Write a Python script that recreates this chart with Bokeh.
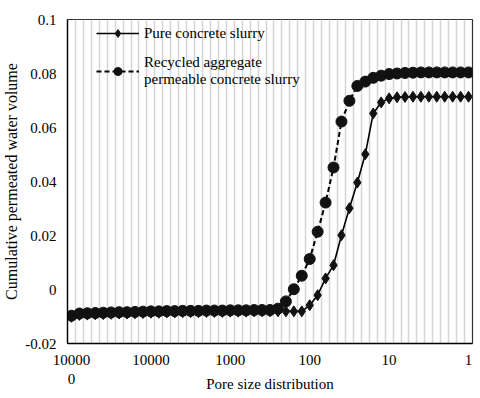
from bokeh.plotting import figure
from bokeh.models import Range1d, FixedTicker, Legend, LegendItem
from bokeh.embed import file_html
from bokeh.resources import INLINE

# Pore sizes (descending, 10 points per decade)
pore_size = [100000, 79433, 63096, 50119, 39811, 31623, 25119, 19953, 15849, 12589,
             10000, 7943.3, 6309.6, 5011.9, 3981.1, 3162.3, 2511.9, 1995.3, 1584.9, 1258.9,
             1000, 794.33, 630.96, 501.19, 398.11, 316.23, 251.19, 199.53, 158.49, 125.89,
             100, 79.433, 63.096, 50.119, 39.811, 31.623, 25.119, 19.953, 15.849, 12.589,
             10, 7.9433, 6.3096, 5.0119, 3.9811, 3.1623, 2.5119, 1.9953, 1.5849, 1.2589, 1]

pure_slurry = [-0.0101, -0.0094, -0.0093, -0.0092, -0.0091, -0.0090, -0.0089, -0.0089, -0.0088, -0.0087,
               -0.0086, -0.0086, -0.0085, -0.0085, -0.0084, -0.0084, -0.0084, -0.0083, -0.0083, -0.0083,
               -0.0082, -0.0082, -0.0082, -0.0081, -0.0081, -0.0081, -0.0081, -0.0081, -0.0081, -0.0081,
               -0.0058, -0.0021, 0.0041, 0.0090, 0.0201, 0.0301, 0.0396, 0.0501, 0.0652, 0.0693,
               0.0708, 0.0712, 0.0713, 0.0714, 0.0714, 0.0714, 0.0714, 0.0714, 0.0714, 0.0714, 0.0714]

recycled_slurry = [-0.0097, -0.0089, -0.0088, -0.0087, -0.0086, -0.0085, -0.0084, -0.0084, -0.0083, -0.0082,
                   -0.0081, -0.0081, -0.0080, -0.0080, -0.0079, -0.0079, -0.0079, -0.0078, -0.0078, -0.0078,
                   -0.0077, -0.0077, -0.0077, -0.0076, -0.0076, -0.0076, -0.0071, -0.0044, 0.0001, 0.0051,
                   0.0113, 0.0214, 0.0322, 0.0452, 0.0622, 0.0699, 0.0754, 0.0770, 0.0784, 0.0792,
                   0.0798, 0.0800, 0.0802, 0.0803, 0.0804, 0.0804, 0.0804, 0.0804, 0.0804, 0.0804, 0.0804]

x_ticks = [100000, 10000, 1000, 100, 10, 1]
x_tick_labels = ["10000\n0", "10000", "1000", "100", "10", "1"]
y_ticks = [-0.02, 0, 0.02, 0.04, 0.06, 0.08, 0.1]
y_tick_labels = ["-0.02", "0", "0.02", "0.04", "0.06", "0.08", "0.1"]

FONT = "Liberation Serif"

# half-step padding on each side (category-like layout)
x_lo = pore_size[0] * (pore_size[0] / pore_size[1]) ** 0.5
x_hi = pore_size[-1] / (pore_size[-2] / pore_size[-1]) ** 0.5

p = figure(width=480, height=398, x_axis_type="log",
           x_range=Range1d(x_lo, x_hi), y_range=Range1d(-0.02, 0.1),
           output_backend="svg", toolbar_location=None,
           min_border_left=64, min_border_right=8, min_border_top=19, min_border_bottom=55)

p.background_fill_color = "white"
p.border_fill_color = "white"
p.outline_line_color = "#333333"
p.outline_line_width = 1.2

# vertical grid lines between points
bounds = [(pore_size[i] * pore_size[i + 1]) ** 0.5 for i in range(len(pore_size) - 1)]
p.xgrid.ticker = FixedTicker(ticks=bounds)
p.xgrid.grid_line_color = "#d4d4d4"
p.xgrid.grid_line_width = 1.5
p.ygrid.grid_line_color = None

# axes
p.xaxis.ticker = FixedTicker(ticks=x_ticks, minor_ticks=[])
p.xaxis.major_label_overrides = {t: l for t, l in zip(x_ticks, x_tick_labels)}
p.yaxis.ticker = FixedTicker(ticks=y_ticks, minor_ticks=[])
p.yaxis.major_label_overrides = {t: l for t, l in zip(y_ticks, y_tick_labels)}

for ax in (p.xaxis, p.yaxis):
    ax.axis_line_color = "black"
    ax.axis_line_width = 1.3
    ax.major_tick_line_color = None
    ax.minor_tick_line_color = None
    ax.major_tick_out = 0
    ax.major_tick_in = 0
    ax.major_label_text_font = FONT
    ax.major_label_text_font_size = "15px"
    ax.major_label_text_color = "black"
    ax.axis_label_text_font = FONT
    ax.axis_label_text_font_style = "normal"
    ax.axis_label_text_color = "black"

p.xaxis.major_label_standoff = 8
p.yaxis.major_label_standoff = 11
p.xaxis.axis_label = "Pore size distribution"
p.xaxis.axis_label_text_font_size = "15px"
p.xaxis.axis_label_standoff = -14
p.yaxis.axis_label = "Cumulative permeated water volume"
p.yaxis.axis_label_text_font_size = "16px"
p.yaxis.axis_label_standoff = 2

# series
l1 = p.line(pore_size, pure_slurry, line_color="black", line_width=1.6)
m1 = p.scatter(pore_size, pure_slurry, marker="diamond", size=11,
               fill_color="#111111", line_color="#111111")
l2 = p.line(pore_size, recycled_slurry, line_color="black", line_width=2, line_dash="5 3")
m2 = p.scatter(pore_size, recycled_slurry, marker="circle", size=11,
               fill_color="#111111", line_color="#111111")

legend = Legend(items=[
    LegendItem(label="Pure concrete slurry", renderers=[l1, m1]),
    LegendItem(label="Recycled aggregate\npermeable concrete slurry", renderers=[l2, m2]),
])
legend.location = (29, 255)
legend.background_fill_alpha = 0
legend.border_line_color = None
legend.padding = 0
legend.margin = 0
legend.spacing = 11
legend.glyph_width = 43
legend.glyph_height = 20
legend.label_standoff = 5
legend.label_text_font = FONT
legend.label_text_font_size = "15px"
legend.label_text_color = "black"
p.add_layout(legend, "center")

open("out.html", "w").write(file_html(p, INLINE))
